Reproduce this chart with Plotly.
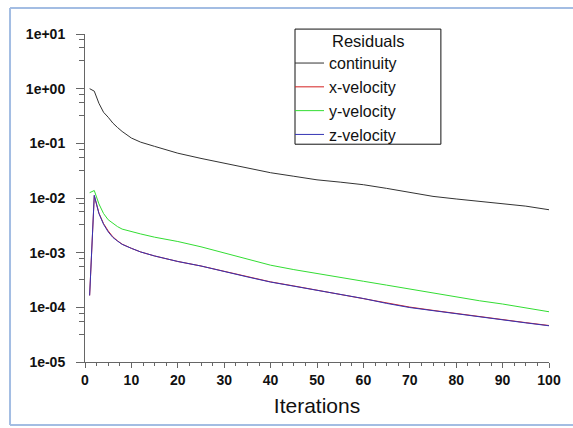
import plotly.graph_objects as go
import numpy as np

iterations = [1, 2, 3, 4, 5, 6, 7, 8, 10, 12, 15, 20, 25, 30, 35, 40, 45, 50,
              55, 60, 65, 70, 75, 80, 85, 90, 95, 100]

continuity = [1.0, 0.9, 0.54, 0.37, 0.30, 0.235, 0.195, 0.165, 0.125, 0.105,
              0.088, 0.066, 0.053, 0.043, 0.035, 0.029, 0.025, 0.0215, 0.0195,
              0.0175, 0.015, 0.0128, 0.0107, 0.0096, 0.0087, 0.0079, 0.0071, 0.0061]

x_velocity = [0.000165, 0.0110, 0.0053, 0.0034, 0.0025, 0.00195, 0.00165, 0.00143,
              0.00120, 0.00103, 0.00087, 0.00069, 0.00057, 0.00046, 0.000362,
              0.000292, 0.000246, 0.000206, 0.000174, 0.000146, 0.000119,
              0.000101, 0.000088, 0.000077, 0.000067, 0.0000595, 0.0000525, 0.0000465]

y_velocity = [0.0125, 0.0137, 0.0078, 0.0052, 0.0040, 0.0034, 0.0030, 0.0027,
              0.00242, 0.00220, 0.00192, 0.00160, 0.00128, 0.00099, 0.00076,
              0.00059, 0.00049, 0.00042, 0.00036, 0.00030, 0.000255, 0.000215,
              0.000182, 0.000157, 0.000132, 0.000115, 0.000098, 0.000083]

z_velocity = [0.000165, 0.0112, 0.0052, 0.0033, 0.0024, 0.0019, 0.00163, 0.00142,
              0.00120, 0.00103, 0.00087, 0.00069, 0.00057, 0.00046, 0.00036,
              0.00029, 0.000245, 0.000205, 0.000172, 0.000145, 0.000118,
              0.000099, 0.000087, 0.000076, 0.000067, 0.000059, 0.000052, 0.000046]

series_names = ["continuity", "x-velocity", "y-velocity", "z-velocity"]
series_colors = ["#333333", "#d42020", "#33dd33", "#3434b4"]
legend_title = "Residuals"

y_tick_vals = [1e1, 1e0, 1e-1, 1e-2, 1e-3, 1e-4, 1e-5]
y_tick_text = ["1e+01", "1e+00", "1e-01", "1e-02", "1e-03", "1e-04", "1e-05"]
x_tick_vals = [0, 10, 20, 30, 40, 50, 60, 70, 80, 90, 100]

fig = go.Figure()
for name, vals, col in zip(series_names,
                           [continuity, x_velocity, y_velocity, z_velocity],
                           series_colors):
    fig.add_trace(go.Scatter(x=iterations, y=vals, mode="lines", name=name,
                             line=dict(color=col, width=1)))

# minor ticks (style only)
y_minor = [10 ** (k - f) for k in range(-4, 2) for f in (0.105, 0.25, 0.49)]
x_minor = [v for v in np.arange(0, 100.01, 2.5) if v % 10 != 0]

FONT = "Liberation Sans, Arial, sans-serif"
tick_font = dict(family=FONT, size=14, color="#111111", weight="bold")

frame = dict(color="#a3bde3", width=2)
fig.update_layout(
    width=573, height=428,
    margin=dict(l=85, r=24, t=34, b=66),
    paper_bgcolor="white", plot_bgcolor="white",
    showlegend=True,
    legend=dict(
        x=0.4526, y=0.963, xanchor="left", yanchor="top",
        bgcolor="rgba(0,0,0,0)", borderwidth=0,
        font=dict(family=FONT, size=16, color="#111111"),
        indentation=-6,
        tracegroupgap=0,
    ),
    xaxis=dict(
        range=[0, 100], showgrid=False, zeroline=False,
        showline=True, linecolor="#666666", linewidth=1,
        tickmode="array", tickvals=x_tick_vals,
        ticks="outside", ticklen=5, tickcolor="#666666", tickwidth=1,
        tickfont=tick_font,
        minor=dict(tickmode="array", tickvals=x_minor, ticks="outside",
                   ticklen=3, tickcolor="#666666", tickwidth=1, showgrid=False),
        title=dict(text="Iterations", standoff=11,
                   font=dict(family=FONT, size=21, color="#111111")),
    ),
    yaxis=dict(
        type="log", range=[-5, 1], showgrid=False, zeroline=False,
        showline=True, linecolor="#666666", linewidth=1,
        tickmode="array", tickvals=y_tick_vals, ticktext=y_tick_text,
        ticks="outside", ticklen=8, tickcolor="#666666", tickwidth=1,
        tickfont=tick_font, ticklabelstandoff=8,
        minor=dict(tickmode="array", tickvals=y_minor, ticks="outside",
                   ticklen=5, tickcolor="#666666", tickwidth=1, showgrid=False),
    ),
    annotations=[dict(text=legend_title, xref="paper", yref="paper",
                      x=0.6098, y=0.979, xanchor="center", yanchor="middle",
                      showarrow=False,
                      font=dict(family=FONT, size=16.5, color="#111111"))],
    shapes=[
        # outer light-blue frame (left, top, bottom edges)
        dict(type="line", xref="paper", yref="paper",
             x0=-0.1616, x1=-0.1616, y0=-0.192, y1=1.079, line=frame),
        dict(type="line", xref="paper", yref="paper",
             x0=-0.1616, x1=1.2, y0=1.079, y1=1.079, line=frame),
        dict(type="line", xref="paper", yref="paper",
             x0=-0.1616, x1=1.2, y0=-0.192, y1=-0.192, line=frame),
        # legend box
        dict(type="rect", xref="paper", yref="paper",
             x0=0.4526, x1=0.767, y0=1.015, y1=0.664,
             line=dict(color="#111111", width=1), fillcolor="white",
             layer="above"),
    ],
)

fig.write_html("out.html")
